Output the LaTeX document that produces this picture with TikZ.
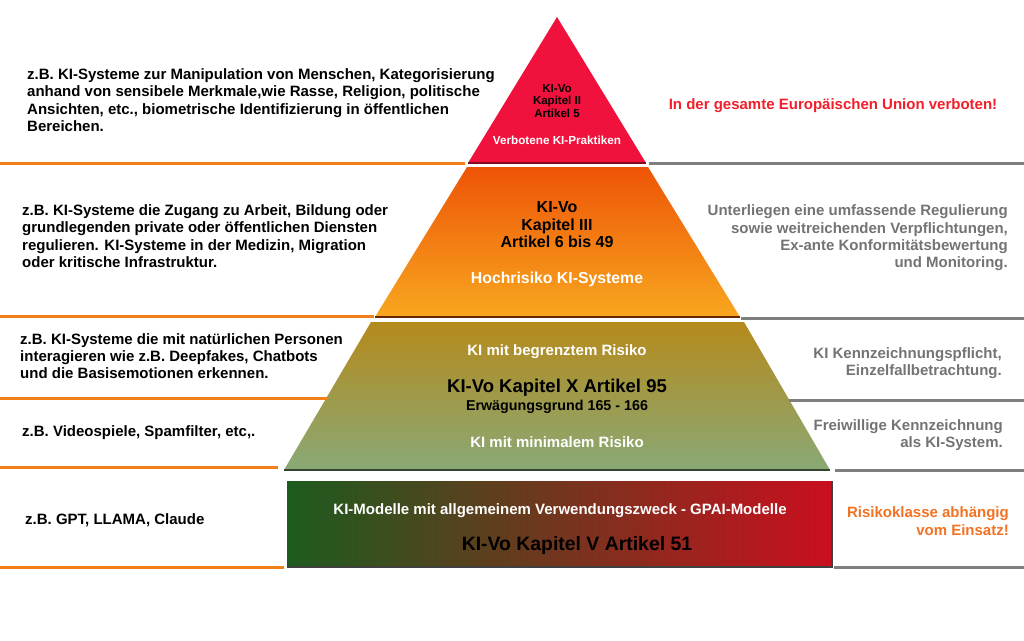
\documentclass[tikz,border=0pt]{standalone}
\usepackage{fontspec}
\setmainfont{Liberation Sans}
\usetikzlibrary{positioning}
\definecolor{seporange}{HTML}{F28018}
\definecolor{sepgray}{HTML}{7F7F7F}
\definecolor{notegray}{HTML}{737373}
\definecolor{banred}{HTML}{F21E2A}
\definecolor{noteorange}{HTML}{F27222}
\definecolor{tipred}{HTML}{F0113D}
\definecolor{highTop}{HTML}{EE5407}
\definecolor{highBot}{HTML}{F8A71F}
\definecolor{limTop}{HTML}{B58A1C}
\definecolor{limBot}{HTML}{89A976}
\definecolor{gpaiLeft}{HTML}{1D5B1E}
\definecolor{gpaiRight}{HTML}{CA0F1E}

\begin{document}
\begin{tikzpicture}[
  x=1pt, y=-1pt,
  leftnote/.style={anchor=west, align=left, inner sep=0pt, font=\fontsize{15}{17.3}\selectfont\bfseries},
  rightnote/.style={anchor=east, align=right, inner sep=0pt, text=notegray, font=\fontsize{15}{17.3}\selectfont\bfseries},
  tier/.style={align=center, inner sep=0pt, font=\fontsize{15}{17.3}\selectfont\bfseries},
  orangesep/.style={seporange, line width=3pt},
  graysep/.style={sepgray, line width=3pt}
]
  \useasboundingbox (0,0) rectangle (1024,640);

  % pyramid tiers
  \fill[tipred] (557,17) -- (646,163) -- (468,163) -- cycle;
  \draw[tipred!55!black, line width=2pt] (468,163) -- (646,163);

  \path[top color=highTop, bottom color=highBot] (467,167) -- (648,167) -- (740,317) -- (375,317) -- cycle;
  \draw[highTop!45!black, line width=2pt] (375,317) -- (740,317);

  \path[top color=limTop, bottom color=limBot] (371,322) -- (744,322) -- (830,470) -- (284,470) -- cycle;
  \draw[limBot!40!black, line width=2pt] (284,470) -- (830,470);

  \path[left color=gpaiLeft, right color=gpaiRight] (287,481) rectangle (831,566);
  \draw[black!75, line width=2pt] (287,567) -- (832,567) -- (832,481);

  % separators left
  \draw[orangesep] (0,163) -- (465,163);
  \draw[orangesep] (0,316) -- (374,316);
  \draw[orangesep] (0,398) -- (327,398);
  \draw[orangesep] (0,467) -- (278,467);
  \draw[orangesep] (0,567) -- (284,567);

  % separators right
  \draw[graysep] (649,163) -- (1024,163);
  \draw[graysep] (741,318) -- (1024,318);
  \draw[graysep] (789,400) -- (1024,400);
  \draw[graysep] (835,470) -- (1024,470);
  \draw[graysep] (834,567) -- (1024,567);

  % texts in the pyramid
  \node[tier, font=\fontsize{11.5}{12.5}\selectfont\bfseries] (banRef) at (557,101) {KI-Vo\\Kapitel II\\Artikel 5};
  \node[tier, text=white, font=\fontsize{11.7}{12}\selectfont\bfseries] (banName) at (557,140) {Verbotene KI-Praktiken};
  \node[tier, font=\fontsize{16}{17.5}\selectfont\bfseries] (highRef) at (557,225) {KI-Vo\\Kapitel III\\Artikel 6 bis 49};
  \node[tier, text=white, font=\fontsize{15.8}{17}\selectfont\bfseries] (highName) at (557,279) {Hochrisiko KI-Systeme};
  \node[tier, text=white] (limName) at (557,352) {KI mit begrenztem Risiko};
  \node[tier, font=\fontsize{18.5}{20}\selectfont\bfseries] (limRef) at (557,388) {KI-Vo Kapitel X Artikel 95};
  \node[tier, font=\fontsize{14.3}{17}\selectfont\bfseries] (limRec) at (557,407) {Erwägungsgrund 165 - 166};
  \node[tier, text=white] (minName) at (557,442) {KI mit minimalem Risiko};
  \node[tier, text=white] (gpaiName) at (560,511) {KI-Modelle mit allgemeinem Verwendungszweck - GPAI-Modelle};
  \node[tier, font=\fontsize{19.4}{20}\selectfont\bfseries] (gpaiRef) at (577,545) {KI-Vo Kapitel V Artikel 51};

  % examples left
  \node[leftnote] (banEx) at (27,100) {z.B. KI-Systeme zur Manipulation von Menschen, Kategorisierung\\anhand von sensibele Merkmale,wie Rasse, Religion, politische\\Ansichten, etc., biometrische Identifizierung in öffentlichen\\Bereichen.};
  \node[leftnote] (highEx) at (22,236) {z.B. KI-Systeme die Zugang zu Arbeit, Bildung oder\\grundlegenden private oder öffentlichen Diensten\\regulieren. KI-Systeme in der Medizin, Migration\\oder kritische Infrastruktur.};
  \node[leftnote] (limEx) at (20,356) {z.B. KI-Systeme die mit natürlichen Personen\\interagieren wie z.B. Deepfakes, Chatbots\\und die Basisemotionen erkennen.};
  \node[leftnote] (minEx) at (22,433) {z.B. Videospiele, Spamfilter, etc,.};
  \node[leftnote] (gpaiEx) at (25,520) {z.B. GPT, LLAMA, Claude};

  % consequences right
  \node[tier, text=banred] (banRule) at (833,106) {In der gesamte Europäischen Union verboten!};
  \node[rightnote] (highRule) at (1008,238) {Unterliegen eine umfassende Regulierung\\sowie weitreichenden Verpflichtungen,\\Ex-ante Konformitätsbewertung\\und Monitoring.};
  \node[rightnote] (limRule) at (1002,363) {KI Kennzeichnungspflicht,\\Einzelfallbetrachtung.};
  \node[rightnote] (minRule) at (1003,435) {Freiwillige Kennzeichnung\\als KI-System.};
  \node[rightnote, text=noteorange] (gpaiRule) at (1009,521) {Risikoklasse abhängig\\vom Einsatz!};
\end{tikzpicture}
\end{document}
